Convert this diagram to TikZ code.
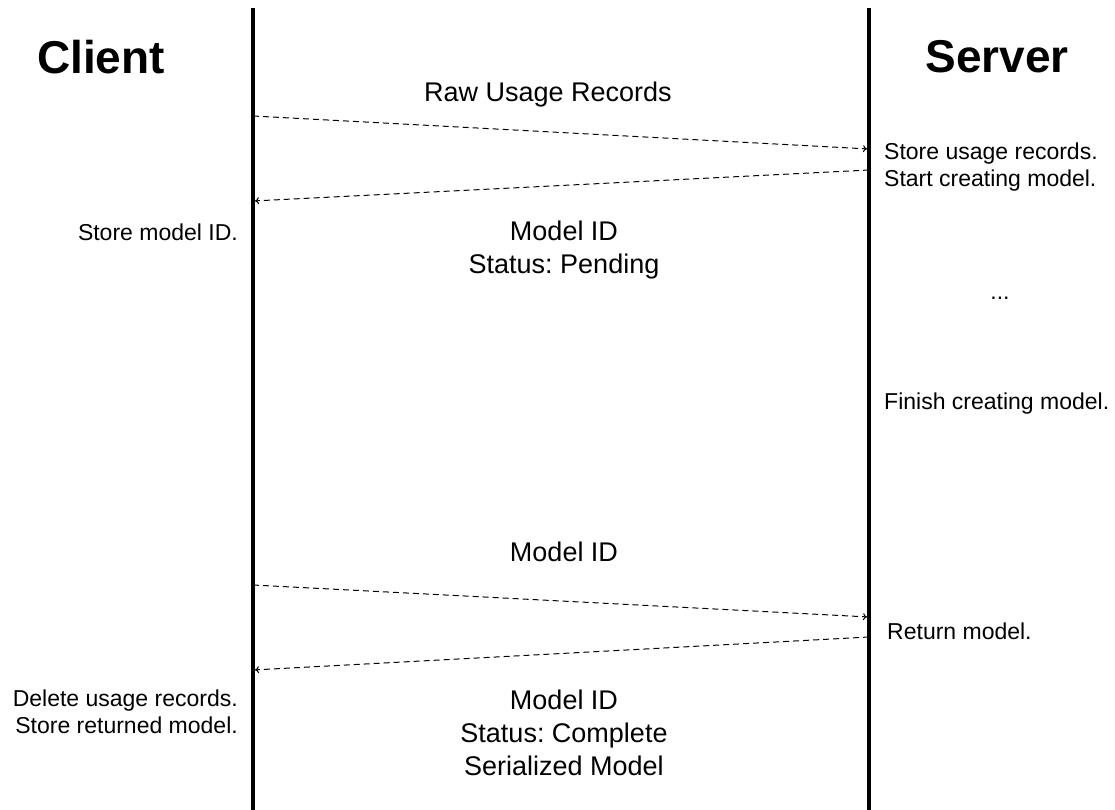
\documentclass[tikz,border=0pt]{standalone}
\usepackage{fontspec}
\setmainfont{Liberation Sans}
\usetikzlibrary{calc,arrows.meta}
\tikzset{
	% lifelines of the two parties and the dashed messages between them
	life line/.style={line width=3.5pt},
	message/.style={-{To[length=4pt,width=7pt]},line width=1pt,dash pattern=on 6pt off 4pt,shorten >=2pt},
	% text styles: party names, message labels, notes beside a lifeline
	party/.style={font=\fontsize{46}{50}\selectfont\bfseries,inner sep=0pt},
	msg label/.style={font=\fontsize{27}{33}\selectfont,align=center,inner sep=0pt},
	note/.style={font=\fontsize{23}{27.5}\selectfont,inner sep=0pt}
}
\frenchspacing
\begin{document}
\begin{tikzpicture}[x=1pt,y=-1pt]
				\useasboundingbox (0,0) rectangle (1115,810);
				% macro for a message from one lifeline to the other
				\newcommand{\sendmsg}[2]{\draw[message] (#1) -- (#2);}
				
				% the two parties
				\node(client)[party] at (101,57){Client};
				\node(server)[party] at (997,57){Server};
				
				\coordinate (client top) at (253,8);
				\coordinate (client bottom) at (253,810);
				\coordinate (server top) at (869,8);
				\coordinate (server bottom) at (869,810);
				\draw[life line] (client top) -- (client bottom);
				\draw[life line] (server top) -- (server bottom);
				
				% end points of the messages on the lifelines
				\coordinate (c1) at (253,116);
				\coordinate (s1) at (869,149);
				\coordinate (s2) at (869,170);
				\coordinate (c2) at (253,201);
				\coordinate (c3) at (253,585);
				\coordinate (s3) at (869,617);
				\coordinate (s4) at (869,637);
				\coordinate (c4) at (253,670);
				
				\sendmsg{c1}{s1}
				\sendmsg{s2}{c2}
				\sendmsg{c3}{s3}
				\sendmsg{s4}{c4}
				
				% labels of the messages
				\node(raw)[msg label] at (548,95){Raw Usage Records};
				\node(pending)[msg label] at (564,250){Model ID\\Status: Pending};
				\node(request)[msg label] at (564,552){Model ID};
				\node(complete)[msg label] at (564,733){Model ID\\Status: Complete\\Serialized Model};
				
				% notes of the server
				\node(store)[note,anchor=west,align=left] at (884,167){Store usage records.\\Start creating model.};
				\node(dots)[note] at (1000,298){...};
				\node(finish)[note,anchor=west] at (884,404){Finish creating model.};
				\node(return)[note,anchor=west] at (887,631){Return model.};
				
				% notes of the client
				\node(keep)[note,anchor=east] at (238,232){Store model ID.};
				\node(delete)[note,anchor=east,align=right] at (238,712){Delete usage records.\\Store returned model.};
			\end{tikzpicture}
\end{document}
